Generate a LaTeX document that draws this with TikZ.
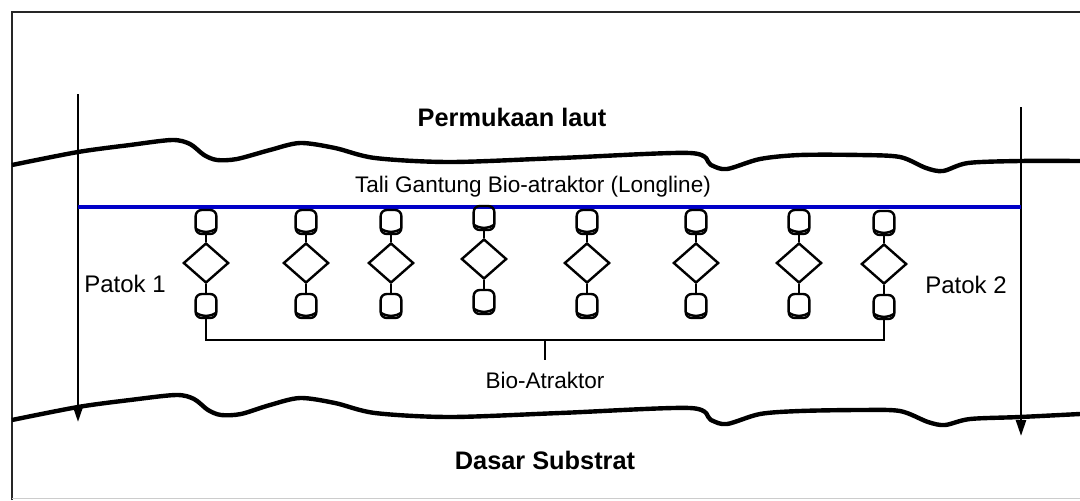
\documentclass[tikz,border=0pt]{standalone}
\usepackage{fontspec}
\setmainfont{Liberation Sans}
\usetikzlibrary{shapes.geometric,arrows.meta}
\definecolor{linecol}{RGB}{0,0,200}
\begin{document}
\begin{tikzpicture}[x=0.75pt,y=-0.75pt,
  frame/.style={line width=1.6pt, draw=black!85},
  post/.style={line width=1.9pt, -{Triangle[length=12pt,width=7.5pt]}},
  wave/.style={line width=3.3pt, line join=round},
  longline/.style={line width=2.5pt, draw=linecol},
  drum/.style={rectangle, rounded corners=4.5pt, draw, line width=1.8pt,
    minimum width=15.5pt, minimum height=18pt, inner sep=0pt,
    path picture={
      \draw[line width=1.8pt, shift={(path picture bounding box.north)}]
        (-9pt,-4pt) to[out=-40,in=-140] (9pt,-4pt);}},
  float/.style={diamond, draw, line width=1.8pt, minimum width=34pt,
    minimum height=30pt, inner sep=0pt},
  link/.style={line width=1.8pt},
  bracket/.style={line width=0.9pt},
  label/.style={inner sep=0pt, font=\fontsize{16.9}{20}\selectfont},
  side/.style={inner sep=0pt, font=\fontsize{18}{21}\selectfont},
  title/.style={inner sep=0pt, font=\fontsize{19}{22}\selectfont\bfseries}
]
\useasboundingbox (0,0) rectangle (1080,500);

% outer frame
\draw[frame] (12,500) -- (12,12) -- (1080,12);
\draw[black!20, line width=0.8pt] (12,498.5) -- (1080,498.5);

% sea surface and sea floor
\draw[wave] plot[smooth, tension=0.5] coordinates {
  (12,165) (78,152) (130,145) (172,140) (190,144) (204,155) (217,160)
  (237,159) (270,150) (300,143) (335,148) (375,158) (450,162) (560,158)
  (690,153) (711,165) (727,169) (760,159) (800,155) (860,155) (900,157)
  (926,168) (943,171) (968,163) (1020,161) (1080,161)};
\draw[wave] plot[smooth, tension=0.5] coordinates {
  (12,420) (78,407) (130,400) (176,395) (194,399) (208,410) (221,415)
  (241,414) (270,405) (300,398) (335,403) (375,413) (450,417) (560,413)
  (690,408) (711,420) (727,424) (760,414) (800,411) (860,410) (900,411)
  (928,422) (945,425) (970,419) (1020,417) (1080,414)};

% posts
\coordinate (p1top) at (78,94);
\coordinate (p1bot) at (78,422);
\coordinate (p2top) at (1021,107);
\coordinate (p2bot) at (1021,436);
\draw[post] (p1top) -- (p1bot);
\draw[post] (p2top) -- (p2bot);

% longline
\coordinate (llA) at (78,207);
\coordinate (llB) at (1021,207);
\draw[longline] (llA) -- (llB);

% texts
\node[title] (surf) at (512,117) {Permukaan laut};
\node[title] (floor) at (545,460) {Dasar Substrat};
\node[label] (ll) at (533,187) {Tali Gantung Bio-atraktor (Longline)};
\node[side] (pk1) at (125,284) {Patok 1};
\node[side] (pk2) at (966,285) {Patok 2};

% bio-attractor units
\foreach \i/\x/\dy in {1/206/0, 2/306/0, 3/391/0, 4/484/-4, 5/587/0,
                       6/696/0, 7/799/0, 8/884/1} {
  \node[drum]  (t\i) at (\x,222+\dy) {};
  \node[float] (d\i) at (\x,263+\dy) {};
  \node[drum]  (b\i) at (\x,306+\dy) {};
  \draw[link] (t\i.south) -- (d\i.north);
  \draw[link] (d\i.south) -- (b\i.north);
}

% bracket and label
\coordinate (brk) at (545,340);
\coordinate (tick) at (545,360);
\draw[bracket] (b1.south) |- (brk) -| (b8.south);
\draw[bracket] (brk) -- (tick);
\node[label] (ba) at (545,380) {Bio-Atraktor};
\end{tikzpicture}
\end{document}
